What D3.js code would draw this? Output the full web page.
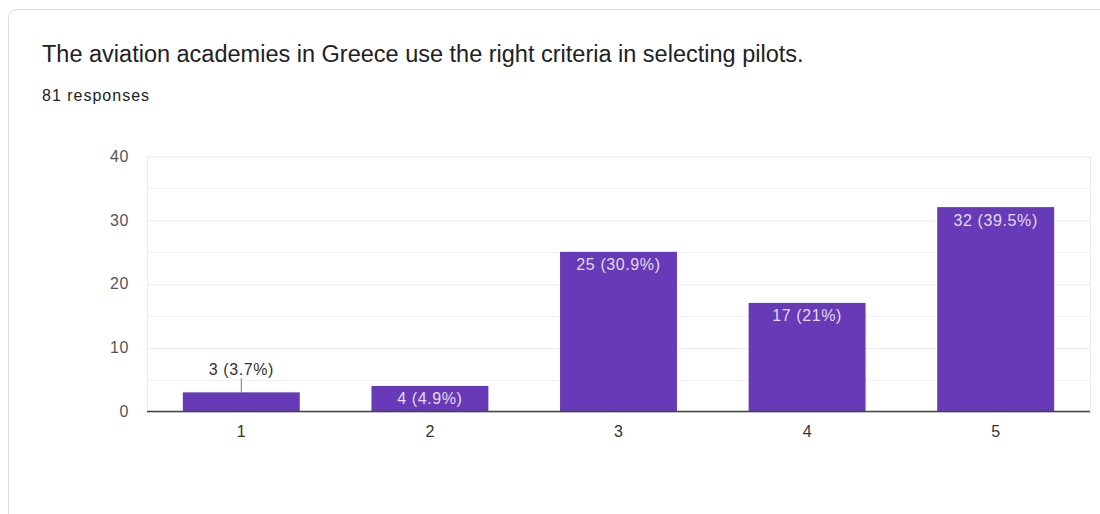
<!DOCTYPE html>
<html>
<head>
<meta charset="utf-8">
<script src="https://cdn.jsdelivr.net/npm/d3@7"></script>
<style>
  html, body { margin: 0; padding: 0; background: #fff; }
  svg { display: block; }
</style>
</head>
<body>
<svg id="chart" width="1100" height="514"></svg>
<script>
// Survey answers on a 1–5 scale
const categories = ["1", "2", "3", "4", "5"];
const counts = [3, 4, 25, 17, 32];
const percentLabels = ["3.7%", "4.9%", "30.9%", "21%", "39.5%"];
const yTicks = [0, 10, 20, 30, 40];
const titleText = "The aviation academies in Greece use the right criteria in selecting pilots.";
const subtitleText = "81 responses";

const FONT = "'Liberation Sans', Arial, Helvetica, sans-serif";
const svg = d3.select("#chart");
const W = 1100, H = 514;

// card outline
svg.append("rect")
  .attr("x", 8.5).attr("y", 9.5)
  .attr("width", W + 20).attr("height", H + 20)
  .attr("rx", 8).attr("ry", 8)
  .attr("fill", "#fff")
  .attr("stroke", "#dadce0")
  .attr("stroke-width", 1);

svg.append("text")
  .attr("x", 42).attr("y", 62)
  .attr("font-family", FONT)
  .attr("font-size", 23.5)
  .attr("fill", "#202124")
  .text(titleText);

svg.append("text")
  .attr("x", 42).attr("y", 101)
  .attr("font-family", FONT)
  .attr("font-size", 16)
  .attr("letter-spacing", 1)
  .attr("fill", "#202124")
  .text(subtitleText);

const plot = { left: 147, right: 1090, top: 156, bottom: 411.5 };

const x = d3.scaleBand()
  .domain(categories)
  .range([plot.left, plot.right])
  .paddingInner(0.38)
  .paddingOuter(0.19);

const y = d3.scaleLinear()
  .domain([0, 40])
  .range([plot.bottom, plot.top]);

const g = svg.append("g");

// minor gridlines halfway between the labelled ones
g.append("g")
  .selectAll("line")
  .data(d3.range(5, 40, 10))
  .join("line")
  .attr("x1", plot.left).attr("x2", plot.right)
  .attr("y1", d => Math.round(y(d)) + 0.5).attr("y2", d => Math.round(y(d)) + 0.5)
  .attr("stroke", "#f3f3f3");

// major gridlines + y labels
const yAxis = d3.axisLeft(y)
  .tickValues(yTicks)
  .tickSize(-(plot.right - plot.left))
  .tickPadding(18)
  .tickFormat(d3.format("d"));

const ya = g.append("g")
  .attr("transform", `translate(${plot.left},0)`)
  .call(yAxis);
ya.select(".domain").remove();
ya.selectAll(".tick line")
  .attr("stroke", "#ebebeb")
  .attr("transform", "translate(0,0.5)");
ya.selectAll(".tick text")
  .attr("font-family", FONT)
  .attr("font-size", 16)
  .attr("letter-spacing", 0.6)
  .attr("fill", "#555");

// side borders of the plot area
g.selectAll("line.side")
  .data([plot.left, plot.right])
  .join("line")
  .attr("class", "side")
  .attr("x1", d => d + 0.5).attr("x2", d => d + 0.5)
  .attr("y1", plot.top).attr("y2", plot.bottom)
  .attr("stroke", "#ebebeb");

// bars
const data = categories.map((c, i) => ({ cat: c, v: counts[i], pct: percentLabels[i] }));

g.append("g")
  .selectAll("rect")
  .data(data)
  .join("rect")
  .attr("x", d => x(d.cat))
  .attr("width", x.bandwidth())
  .attr("y", d => y(d.v))
  .attr("height", d => y(0) - y(d.v))
  .attr("fill", "#673ab7");

// baseline
g.append("line")
  .attr("x1", plot.left).attr("x2", plot.right)
  .attr("y1", y(0)).attr("y2", y(0))
  .attr("stroke", "#444")
  .attr("stroke-width", 1.3);

// x axis labels
g.append("g")
  .selectAll("text")
  .data(categories)
  .join("text")
  .attr("x", d => x(d) + x.bandwidth() / 2)
  .attr("y", 437)
  .attr("text-anchor", "middle")
  .attr("font-family", FONT)
  .attr("font-size", 16)
  .attr("fill", "#333")
  .text(d => d);

// value labels: inside tall bars, above short ones with a leader line
const inside = d => (y(0) - y(d.v)) > 22;

const lab = g.append("g");
lab.selectAll("text")
  .data(data)
  .join("text")
  .attr("x", d => x(d.cat) + x.bandwidth() / 2)
  .attr("y", d => inside(d) ? y(d.v) + 18.5 : y(d.v) - 17.5)
  .attr("text-anchor", "middle")
  .attr("font-family", FONT)
  .attr("font-size", 16)
  .attr("letter-spacing", 0.6)
  .attr("fill", d => inside(d) ? "#e3daf2" : "#333")
  .text(d => `${d.v} (${d.pct})`);

lab.selectAll("line")
  .data(data.filter(d => !inside(d)))
  .join("line")
  .attr("x1", d => x(d.cat) + x.bandwidth() / 2)
  .attr("x2", d => x(d.cat) + x.bandwidth() / 2)
  .attr("y1", d => y(d.v))
  .attr("y2", d => y(d.v) - 14)
  .attr("stroke", "#777")
  .attr("stroke-width", 1);
</script>
</body>
</html>
